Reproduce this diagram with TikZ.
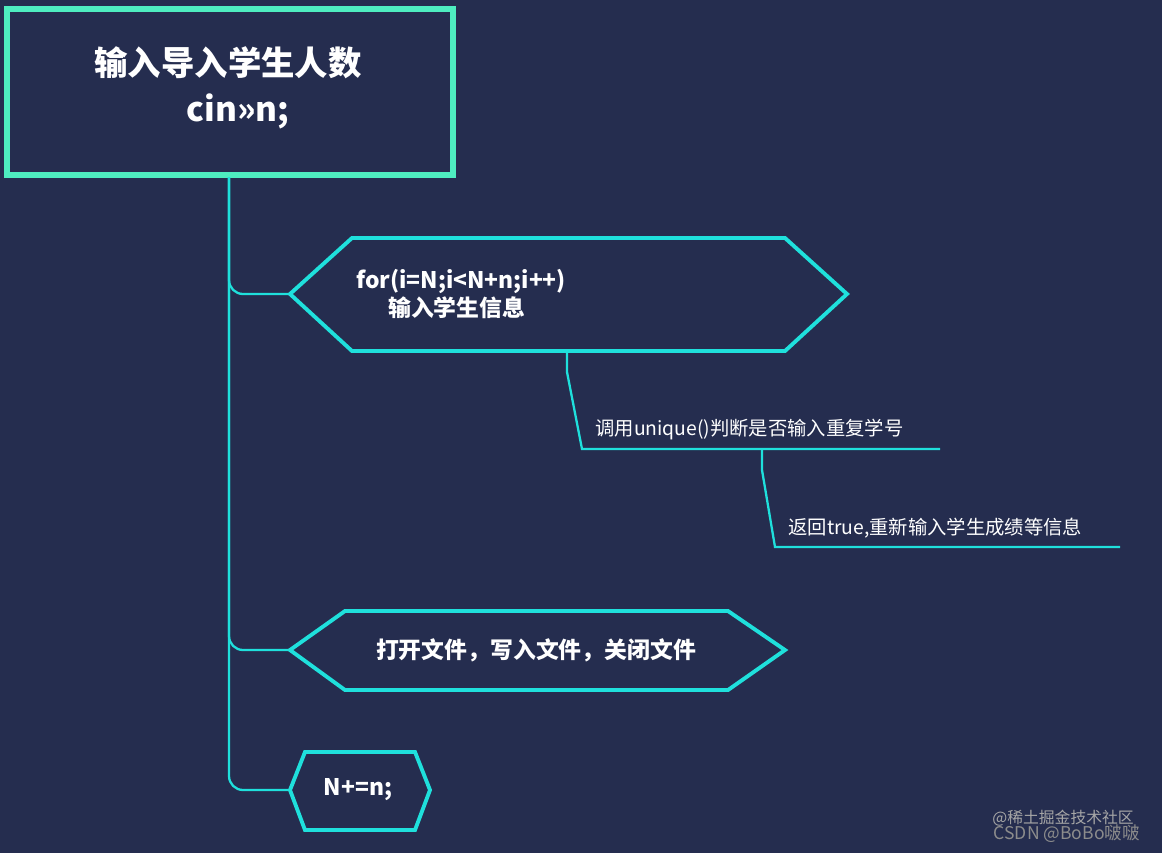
\documentclass[tikz,border=0pt]{standalone}
\usepackage{fontspec}
\setmainfont{Noto Sans CJK SC}
\usetikzlibrary{positioning}
\definecolor{bgnavy}{HTML}{252D4F}
\definecolor{framegreen}{HTML}{4EEDC0}
\definecolor{linecyan}{HTML}{1FE0DC}
\tikzset{
  hexbox/.style={draw=linecyan, line width=2.2pt, line join=miter},
  branch/.style={draw=linecyan, line width=1.3pt, rounded corners=8pt},
  boldtext/.style={text=white, font=\bfseries\fontsize{13}{16}\selectfont, align=left},
  plaintext/.style={text=white, font=\fontsize{11}{13}\selectfont, anchor=south west, inner sep=0pt}
}
\begin{document}
\begin{tikzpicture}[x=0.02cm, y=-0.02cm]
  \fill[bgnavy] (0,0) rectangle (1162,853);

  % title box
  \draw[framegreen, line width=3.4pt, fill=bgnavy] (7,9) rectangle (453,175);
  \node[text=white, font=\bfseries\fontsize{19}{26}\selectfont, align=center] (title) at (228,88) {输入导入学生人数\\\hspace*{0.6em}cin>>n;};
  \coordinate (trunk) at (229,177);

  % loop hexagon
  \draw[hexbox] (290,294) -- (352,238) -- (785,238) -- (847,294) -- (785,351) -- (352,351) -- cycle;
  \coordinate (loop) at (290,294);
  \node[boldtext, anchor=west] (loopt) at (350,294) {for(i=N;i<N+n;i++)\\\hspace*{1.4em}输入学生信息};

  % file hexagon
  \draw[hexbox] (290,650) -- (345,611) -- (728,611) -- (785,650) -- (728,690) -- (345,690) -- cycle;
  \coordinate (file) at (290,650);
  \node[boldtext] (filet) at (536,650) {打开文件，写入文件，关闭文件};

  % count hexagon
  \draw[hexbox] (290,790) -- (305,752) -- (415,752) -- (430,790) -- (415,830) -- (305,830) -- cycle;
  \coordinate (count) at (290,790);
  \node[boldtext] (countt) at (358,790) {N+=n;};

  % trunk
  \draw[branch] (trunk) |- (loop);
  \draw[branch] (trunk) |- (file);
  \draw[branch] (trunk) |- (count);

  % sub branches
  \coordinate (check) at (567,352);
  \coordinate (checkend) at (940,449);
  \draw[linecyan, line width=1.3pt] (check) -- (567,372) -- (582,449) -- (checkend);
  \node[plaintext] (checkt) at (595,440) {调用unique()判断是否输入重复学号};
  \coordinate (redo) at (762,449);
  \coordinate (redoend) at (1120,547);
  \draw[linecyan, line width=1.3pt] (redo) -- (762,470) -- (775,547) -- (redoend);
  \node[plaintext] (redot) at (788,539) {返回true,重新输入学生成绩等信息};

  % watermark
  \node[text=gray!70, font=\fontsize{9}{11}\selectfont, anchor=east] (mark1) at (1140,818) {@稀土掘金技术社区};
  \node[text=gray!90, font=\fontsize{10}{12}\selectfont, anchor=east] (mark2) at (1146,834) {CSDN @BoBo啵啵};
\end{tikzpicture}
\end{document}
